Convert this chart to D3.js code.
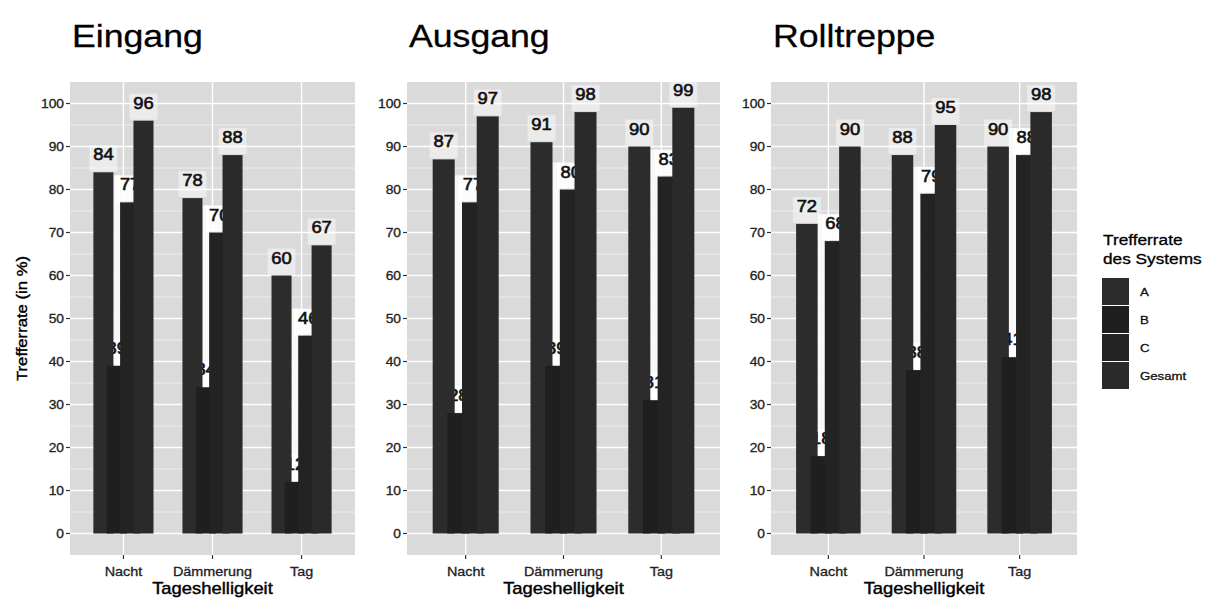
<!DOCTYPE html>
<html><head><meta charset="utf-8">
<script src="https://cdn.jsdelivr.net/npm/d3@7"></script>
<style>body{margin:0;background:#fff}svg{display:block}</style></head>
<body>
<svg id="chart" width="1212" height="601"></svg>
<script>
// ---- data ----
const categories = ["Nacht", "Dämmerung", "Tag"];
const seriesNames = ["A", "B", "C", "Gesamt"];
const panelTitles = ["Eingang", "Ausgang", "Rolltreppe"];
const eingangA = [84, 78, 60];
const eingangB = [39, 34, 12];
const eingangC = [77, 70, 46];
const eingangGesamt = [96, 88, 67];
const ausgangA = [87, 91, 90];
const ausgangB = [28, 39, 31];
const ausgangC = [77, 80, 83];
const ausgangGesamt = [97, 98, 99];
const rolltreppeA = [72, 88, 90];
const rolltreppeB = [18, 38, 41];
const rolltreppeC = [68, 79, 88];
const rolltreppeGesamt = [90, 95, 98];
const yTicks = [0, 10, 20, 30, 40, 50, 60, 70, 80, 90, 100];
const yMinorTicks = [5, 15, 25, 35, 45, 55, 65, 75, 85, 95];
const xAxisTitle = "Tageshelligkeit";
const yAxisTitle = "Trefferrate (in %)";
const legendTitleLines = ["Trefferrate", "des Systems"];

const panelData = [
  [eingangA, eingangB, eingangC, eingangGesamt],
  [ausgangA, ausgangB, ausgangC, ausgangGesamt],
  [rolltreppeA, rolltreppeB, rolltreppeC, rolltreppeGesamt]
];

// ---- layout / style ----
const FONT = "'Liberation Sans', Arial, Helvetica, sans-serif";
const SX = 1.15;
const panelX = [[70, 355], [407, 720], [771, 1077]];
const TOP = 82, BOTTOM = 555;
const panelBg = "#dadada";
const barColors = ["#2c2c2c", "#1f1f1f", "#232323", "#2a2a2a"];
const labelBoxOpacity = [0.45, 0.9, 0.9, 0.45];
const offsets = [-0.225, -0.075, 0.075, 0.225];
const widthFrac = 0.225;

const svg = d3.select("#chart");
const y = d3.scaleLinear().domain([-5, 105]).range([BOTTOM, TOP]);

function txt(g, x, yy, s, size, anchor, color, rot, sw) {
  return g.append("text")
    .attr("transform", `translate(${x},${yy})` + (rot ? ` rotate(${rot})` : "") + ` scale(${SX},1)`)
    .attr("text-anchor", anchor || "start")
    .attr("font-family", FONT)
    .attr("font-size", size)
    .attr("fill", color || "#111")
    .attr("stroke", color || "#111")
    .attr("stroke-width", sw == null ? 0.3 : sw)
    .text(s);
}

panelData.forEach((values, p) => {
  const g = svg.append("g");
  const [x0, x1] = panelX[p];
  const x = d3.scalePoint().domain(categories).range([x0, x1]).padding(0.6);
  const s = x.step();
  const bw = widthFrac * s;

  // panel background
  g.append("rect").attr("x", x0).attr("y", TOP).attr("width", x1 - x0).attr("height", BOTTOM - TOP).attr("fill", panelBg);
  // minor grid
  g.selectAll(".mi").data(yMinorTicks).enter().append("line")
    .attr("x1", x0).attr("x2", x1).attr("y1", d => y(d)).attr("y2", d => y(d))
    .attr("stroke", "#f2f2f2").attr("stroke-width", 0.8);
  // major grid
  g.selectAll(".ma").data(yTicks).enter().append("line")
    .attr("x1", x0).attr("x2", x1).attr("y1", d => y(d)).attr("y2", d => y(d))
    .attr("stroke", "#ffffff").attr("stroke-width", 1.4);
  g.selectAll(".mv").data(categories).enter().append("line")
    .attr("x1", d => x(d)).attr("x2", d => x(d)).attr("y1", TOP).attr("y2", BOTTOM)
    .attr("stroke", "#ffffff").attr("stroke-width", 1.4);

  // white strip between A and C (above B)
  categories.forEach((cat, i) => {
    const c = x(cat);
    const bVal = values[1][i], cVal = values[2][i];
    g.append("rect")
      .attr("x", c + (offsets[0] * s + bw / 2))
      .attr("width", (offsets[2] * s - bw / 2) - (offsets[0] * s + bw / 2))
      .attr("y", y(cVal) - 27)
      .attr("height", y(bVal) - (y(cVal) - 27))
      .attr("fill", "#f8f8f8");
  });

  // labels (drawn before bars, so later bars overlap them)
  seriesNames.forEach((sn, k) => {
    categories.forEach((cat, i) => {
      const v = values[k][i];
      const cx = x(cat) + offsets[k] * s;
      g.append("rect").attr("x", cx - 14).attr("width", 28)
        .attr("y", y(v) - 27).attr("height", 26)
        .attr("fill", "#ffffff").attr("opacity", labelBoxOpacity[k]);
      txt(g, cx, y(v) - 12, String(v), 16, "middle", "#111", null, 0.6);
    });
  });

  // bars
  seriesNames.forEach((sn, k) => {
    g.selectAll(".bar" + k).data(categories).enter().append("rect")
      .attr("x", (d) => x(d) + offsets[k] * s - bw / 2)
      .attr("width", bw)
      .attr("y", (d, i) => y(values[k][i]))
      .attr("height", (d, i) => y(0) - y(values[k][i]))
      .attr("fill", barColors[k]);
  });

  // y axis ticks + labels
  yTicks.forEach(t => {
    g.append("line").attr("x1", x0 - 4).attr("x2", x0).attr("y1", y(t)).attr("y2", y(t))
      .attr("stroke", "#333").attr("stroke-width", 1.2);
    txt(g, x0 - 6, y(t) + 4, String(t), 12, "end", "#222");
  });
  // x axis ticks + labels
  categories.forEach(cat => {
    g.append("line").attr("x1", x(cat)).attr("x2", x(cat)).attr("y1", BOTTOM).attr("y2", BOTTOM + 4)
      .attr("stroke", "#333").attr("stroke-width", 1.2);
    txt(g, x(cat), 576, cat, 12.5, "middle", "#222");
  });
  // x axis title
  txt(g, (x0 + x1) / 2, 594, xAxisTitle, 16, "middle", "#000", null, 0.4);
  // panel title
  txt(g, x0 + 2, 47, panelTitles[p], 31, "start", "#000", null, 0.3);
});

// y axis title
txt(svg, 27, (TOP + BOTTOM) / 2, yAxisTitle, 14.5, "middle", "#000", -90, 0.4);

// legend
const lg = svg.append("g");
txt(lg, 1103, 245, legendTitleLines[0], 15, "start", "#000");
txt(lg, 1103, 264, legendTitleLines[1], 15, "start", "#000");
seriesNames.forEach((sn, k) => {
  const ky = 278 + k * 28;
  lg.append("rect").attr("x", 1102).attr("y", ky).attr("width", 27).attr("height", 27).attr("fill", barColors[k]);
  txt(lg, 1140, ky + 18, sn, 11.5, "start", "#111");
});
</script>
</body></html>
